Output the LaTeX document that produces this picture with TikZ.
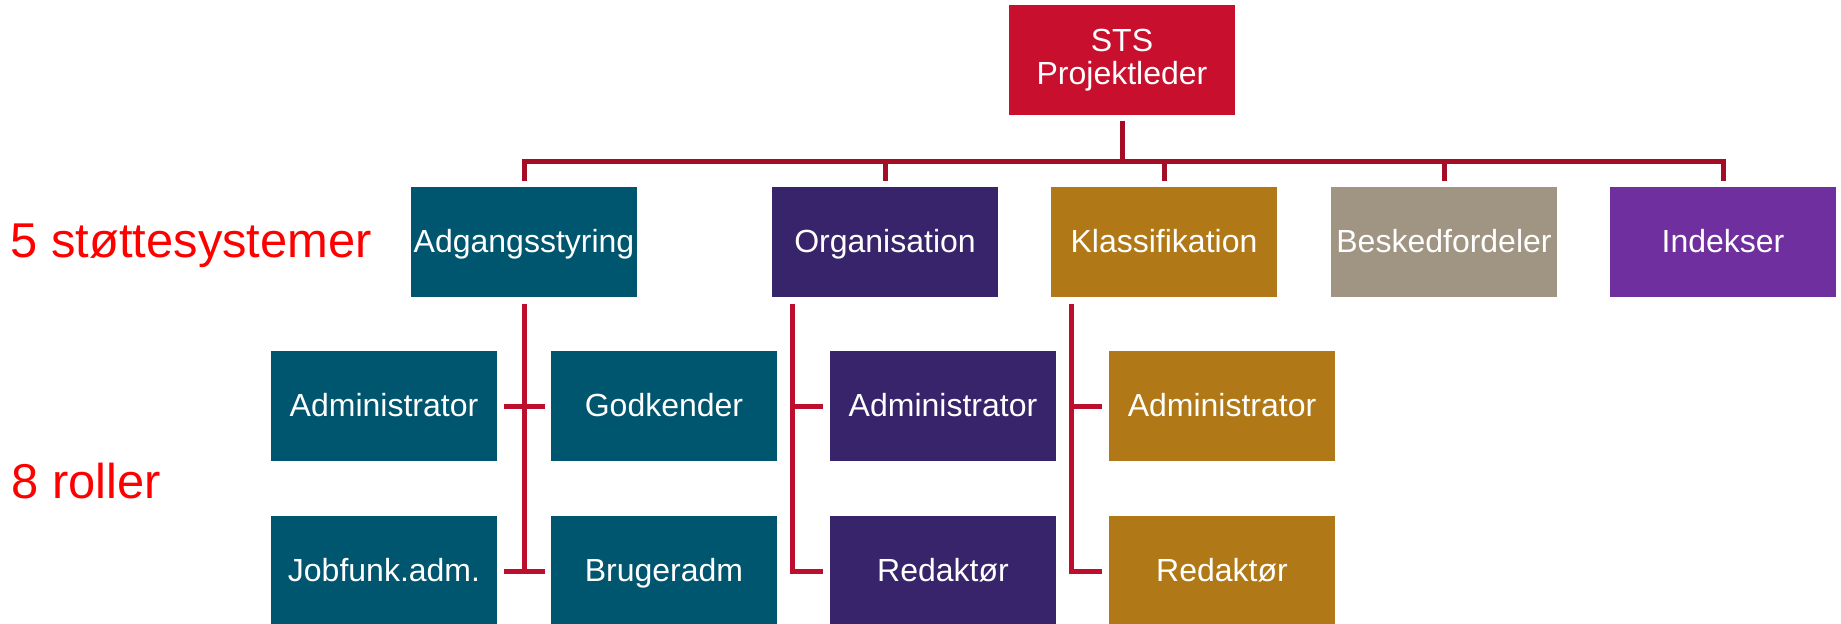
\documentclass[tikz,border=0pt]{standalone}
\usepackage{fontspec}
\setmainfont{Liberation Sans}

\definecolor{stsred}{HTML}{C8102E}
\definecolor{adgblue}{HTML}{00566F}
\definecolor{orgpurple}{HTML}{37246B}
\definecolor{klagold}{HTML}{B07816}
\definecolor{besgrey}{HTML}{A09483}
\definecolor{idxviolet}{HTML}{6F2F9F}
\definecolor{bardark}{HTML}{A30D26}
\definecolor{linkred}{HTML}{BE0E2E}

\begin{document}
\begin{tikzpicture}[x=0.01cm,y=-0.01cm,
		box/.style={fill=#1,text=white,minimum width=2.26cm,minimum height=1.1cm,inner sep=0pt,align=center,font=\fontsize{9.1}{9.4}\selectfont},
		unit/.style={box=#1,text height=0.72em,text depth=0.1em},
		conn/.style={draw=#1,line width=0.05cm},
		lbl/.style={text=red,anchor=base west,inner sep=0pt,font=\fontsize{13.9}{14}\selectfont}]
	\clip (0,0) rectangle (1841,624);
	\node[box=stsred] (sts) at (1122,60) {STS\\Projektleder};
	\node[unit=adgblue] (adg) at (524,242) {Adgangsstyring};
	\node[unit=orgpurple] (org) at (885,242) {Organisation};
	\node[unit=klagold] (kla) at (1164,242) {Klassifikation};
	\node[unit=besgrey] (bes) at (1444,242) {Beskedfordeler};
	\node[unit=idxviolet] (idx) at (1723,242) {Indekser};
	\node[unit=adgblue] (adm1) at (384,406) {Administrator};
	\node[unit=adgblue] (godk) at (664,406) {Godkender};
	\node[unit=adgblue] (jobf) at (384,571) {Jobfunk.adm.};
	\node[unit=adgblue] (brug) at (664,571) {Brugeradm};
	\node[unit=orgpurple] (adm2) at (943,406) {Administrator};
	\node[unit=orgpurple] (red2) at (943,571) {Redaktør};
	\node[unit=klagold] (adm3) at (1222,406) {Administrator};
	\node[unit=klagold] (red3) at (1222,571) {Redaktør};
	\node[lbl] (nsys) at (10,257) {5 støttesystemer};
	\node[lbl] (nrol) at (11,498) {8 roller};
	\coordinate (bar) at (0,161);
	\draw[conn=bardark,shorten <=0.05cm] (sts.south) -- (sts |- bar);
	\draw[conn=bardark,shorten <=0.05cm,shorten >=0.05cm] (adg.north) -- (adg |- bar) -- (idx |- bar) -- (idx.north);
	\foreach \n in {org,kla,bes}
		\draw[conn=bardark,shorten >=0.05cm] (\n |- bar) -- (\n.north);
	\draw[conn=linkred,shorten <=0.06cm] (adg.south) -- (adg |- jobf);
	\draw[conn=linkred,shorten <=0.06cm,shorten >=0.05cm] (adm1.east) -- (godk.west);
	\draw[conn=linkred,shorten <=0.06cm,shorten >=0.05cm] (jobf.east) -- (brug.west);
	\foreach \p/\a/\r in {org/adm2/red2,kla/adm3/red3}{
		\coordinate (\p x) at ([xshift=0.21cm]\p.south west);
		\draw[conn=linkred,shorten <=0.06cm,shorten >=0.06cm] (\p x) -- (\p x |- \r) -- (\r.west);
		\draw[conn=linkred,shorten >=0.06cm] (\p x |- \a) -- (\a.west);
	}
\end{tikzpicture}
\end{document}
